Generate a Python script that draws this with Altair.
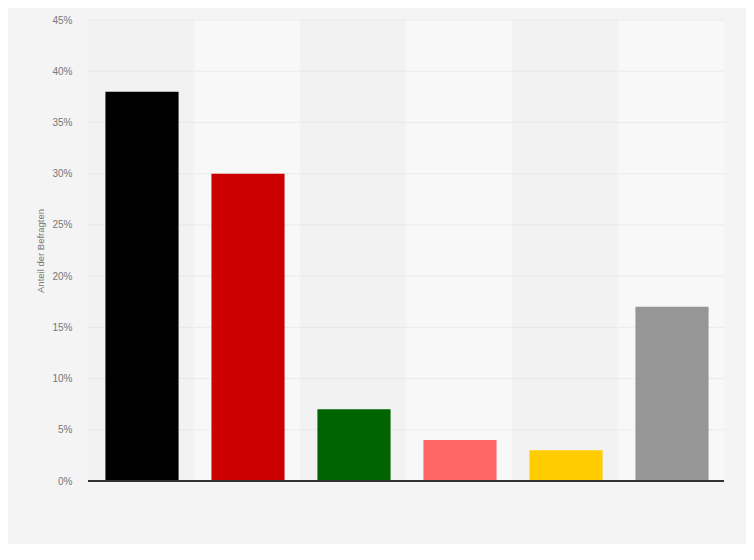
import altair as alt
import pandas as pd

categories = ["CDU/CSU", "SPD", "Grüne", "Linke", "FDP", "Sonstige"]
values = [38, 30, 7, 4, 3, 17]
colors = ["#000000", "#cc0000", "#006400", "#ff6666", "#ffcc00", "#969696"]
band_colors = ["#f2f2f2", "#f8f8f8", "#f2f2f2", "#f8f8f8", "#f2f2f2", "#f8f8f8"]
tick_values = [5, 10, 15, 20, 25, 30, 35, 40, 45]

df = pd.DataFrame({"cat": categories, "val": values, "color": colors,
                   "band": band_colors, "top": [45] * len(categories)})
grid_df = pd.DataFrame({"v": tick_values})

x = alt.X("cat:N", sort=categories,
          scale=alt.Scale(paddingInner=0, paddingOuter=0),
          axis=alt.Axis(labels=False, ticks=False, title=None, domain=False))

yscale = alt.Scale(domain=[0, 45], nice=False)
yaxis = alt.Axis(values=list(range(0, 50, 5)),
                 labelExpr="datum.value + '%'",
                 title="Anteil der Befragten",
                 titleFontSize=9.5, titleFontWeight="normal",
                 titleColor="#777777", titleFont="Arial",
                 titlePadding=6,
                 labelFontSize=10, labelColor="#777777",
                 labelFont="Arial", labelPadding=16,
                 ticks=False, domain=False, grid=False)

bands = alt.Chart(df).mark_bar(width={"band": 1}).encode(
    x=x,
    y=alt.Y("top:Q", scale=yscale, axis=yaxis),
    color=alt.Color("band:N", scale=None),
)

grid = alt.Chart(grid_df).mark_rule(color="#dddddd", strokeDash=[1, 1],
                                    strokeWidth=1).encode(
    y=alt.Y("v:Q", scale=yscale)
)

bars = alt.Chart(df).mark_bar(width={"band": 0.69}, xOffset=1).encode(
    x=x,
    y=alt.Y("val:Q", scale=yscale),
    color=alt.Color("color:N", scale=None),
)

baseline = alt.Chart(df).mark_rule(color="#333333", strokeWidth=1.5).encode(
    y=alt.datum(0)
)

chart = alt.layer(bands, grid, bars, baseline).properties(
    width=636, height=461,
    background="#f4f4f4",
    padding={"left": 80, "top": 12, "right": 22, "bottom": 63},
    autosize=alt.AutoSizeParams(type="none"),
).configure_view(stroke=None, fill="#f4f4f4")

chart.save("out.html", embed_options={"renderer": "svg", "actions": False})
